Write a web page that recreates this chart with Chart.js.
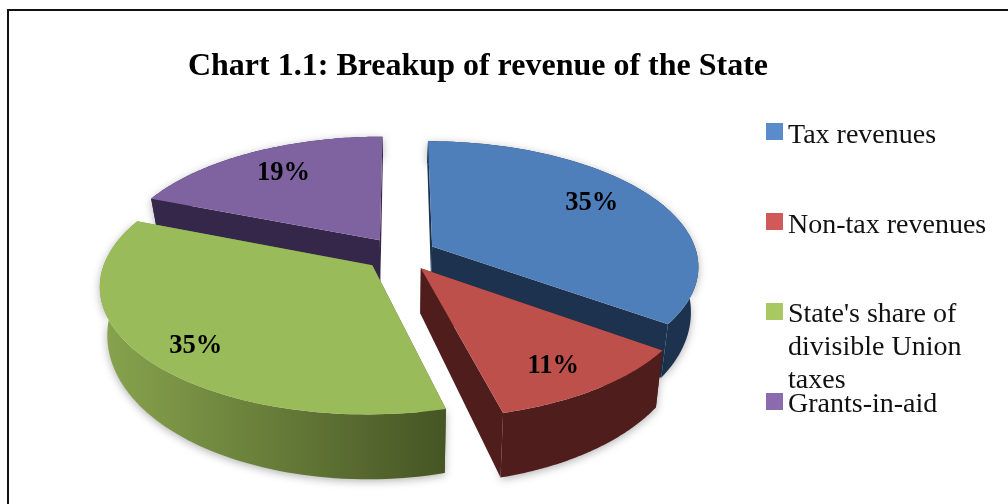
<!DOCTYPE html>
<html>
<head>
<meta charset="utf-8">
<title>Chart 1.1</title>
<script src="https://cdn.jsdelivr.net/npm/chart.js@4/dist/chart.umd.js"></script>
<style>
  html, body { margin: 0; padding: 0; background: #fff; overflow: hidden; }
  #wrap { position: relative; width: 1008px; height: 504px; }
  #frame { position: absolute; left: 7px; top: 9px; width: 1100px; height: 600px; border: 2px solid #111; box-sizing: border-box; }
  canvas { position: absolute; left: 0; top: 0; filter: blur(0.4px); }
</style>
</head>
<body>
<div id="wrap">
  <div id="frame"></div>
  <canvas id="pie" width="1008" height="504"></canvas>
</div>
<script>
// data
const categories = ['Tax revenues', 'Non-tax revenues', "State's share of divisible Union taxes", 'Grants-in-aid'];
const shares = [35, 11, 35, 19];
const legendLines = [['Tax revenues'], ['Non-tax revenues'], ["State's share of", 'divisible Union', 'taxes'], ['Grants-in-aid']];
const titleText = 'Chart 1.1: Breakup of revenue of the State';

// styles
const topColors = ['#4f7fbb', '#be504c', '#9abb59', '#7f62a0'];
const swatchColors = ['#5a8ccc', '#d05a5a', '#a8c962', '#8b6bae'];
const wallLeft = ['#1c324e', '#4f1e1c', '#88a44e', '#35274a'];
const wallRight = ['#1c324e', '#4f1e1c', '#465524', '#35274a'];
const drawOrder = [3, 0, 2, 1];
const labelNudge = [[-10, -3], [1, 8], [-6, 11], [5, 2]];
const serif = '"Liberation Serif", "Times New Roman", serif';

// tilted view of the pie plane (3D look, canvas has no real perspective)
const view = { cx: 400, cy: 254, rx: 265, ry: 123, k: 0.15, depth: 43, depthTilt: 20, narrow: 0.025 };

function project(arc, r, angle, drop) {
  const mid = (arc.startAngle + arc.endAngle) / 2;
  const off = arc.options.offset / 4 / arc.outerRadius;
  const u = r * Math.cos(angle) + off * Math.cos(mid);
  const v = -(r * Math.sin(angle) + off * Math.sin(mid));
  const w = 1 + view.k * v;
  let x = view.cx + view.rx * u / w;
  let y = view.cy - view.ry * v / w;
  if (drop) {
    y += view.depth - view.depthTilt * v;
    x += (view.cx - x) * view.narrow;
  }
  return { x, y };
}

function tracePath(ctx, pts) {
  ctx.beginPath();
  pts.forEach((p, i) => (i ? ctx.lineTo(p.x, p.y) : ctx.moveTo(p.x, p.y)));
  ctx.closePath();
}

const pie3d = {
  id: 'pie3d',
  beforeDatasetsDraw(chart) {
    const ctx = chart.ctx;
    const arcs = chart.getDatasetMeta(0).data;
    drawOrder.forEach((i) => {
      const arc = arcs[i];
      const rim = [];
      const rimLow = [];
      for (let s = 0; s <= 80; s++) {
        const a = arc.startAngle + (arc.endAngle - arc.startAngle) * s / 80;
        rim.push(project(arc, 1, a, false));
        rimLow.push(project(arc, 1, a, true));
      }
      const tip = project(arc, 0, 0, false);
      const tipLow = project(arc, 0, 0, true);
      const xs = rim.map((p) => p.x);
      const grad = ctx.createLinearGradient(Math.min(...xs), 0, Math.max(...xs), 0);
      grad.addColorStop(0, wallLeft[i]);
      grad.addColorStop(1, wallRight[i]);

      ctx.save();
      ctx.fillStyle = grad;
      ctx.shadowColor = 'rgba(0,0,0,0.3)';
      ctx.shadowBlur = 9;
      ctx.shadowOffsetY = 2;
      tracePath(ctx, rim.concat(rimLow.slice().reverse()));
      ctx.fill();
      ctx.shadowColor = 'transparent';
      tracePath(ctx, [tip, rim[0], rimLow[0], tipLow]);
      ctx.fill();
      tracePath(ctx, [tip, rim[80], rimLow[80], tipLow]);
      ctx.fill();
      tracePath(ctx, [tip].concat(rim));
      ctx.fillStyle = topColors[i];
      ctx.fill();
      ctx.restore();
    });
    return false; // walls and faces are done here
  },
  afterDraw(chart) {
    const ctx = chart.ctx;
    const arcs = chart.getDatasetMeta(0).data;
    ctx.save();
    ctx.fillStyle = '#000';
    ctx.textAlign = 'center';
    ctx.textBaseline = 'middle';
    ctx.font = 'bold 26.5px ' + serif;
    arcs.forEach((arc, i) => {
      const mid = (arc.startAngle + arc.endAngle) / 2;
      const p = project(arc, 0.77, mid, false);
      ctx.fillText(shares[i] + '%', p.x + labelNudge[i][0], p.y + labelNudge[i][1]);
    });

    // legend, rows are not evenly spaced so it is not the built in one
    ctx.textAlign = 'left';
    ctx.textBaseline = 'alphabetic';
    ctx.font = '28px ' + serif;
    const swatchY = [123, 213, 303, 393];
    const firstBaseline = [143, 233, 322, 412];
    legendLines.forEach((lines, i) => {
      ctx.fillStyle = swatchColors[i];
      ctx.fillRect(766, swatchY[i], 17, 17);
      ctx.fillStyle = '#111';
      lines.forEach((line, n) => ctx.fillText(line, 788, firstBaseline[i] + n * 33));
    });
    ctx.restore();
  }
};

new Chart(document.getElementById('pie'), {
  type: 'pie',
  data: {
    labels: categories,
    datasets: [{
      data: shares,
      backgroundColor: topColors,
      borderWidth: 0,
      offset: 90
    }]
  },
  options: {
    responsive: false,
    animation: false,
    layout: { padding: { right: 52, top: 48 } },
    plugins: {
      legend: { display: false },
      tooltip: { enabled: false },
      title: {
        display: true,
        text: titleText,
        color: '#000',
        font: { family: serif, size: 32, weight: 'bold' },
        padding: { top: 0, bottom: 0 }
      }
    }
  },
  plugins: [pie3d]
});
</script>
</body>
</html>
